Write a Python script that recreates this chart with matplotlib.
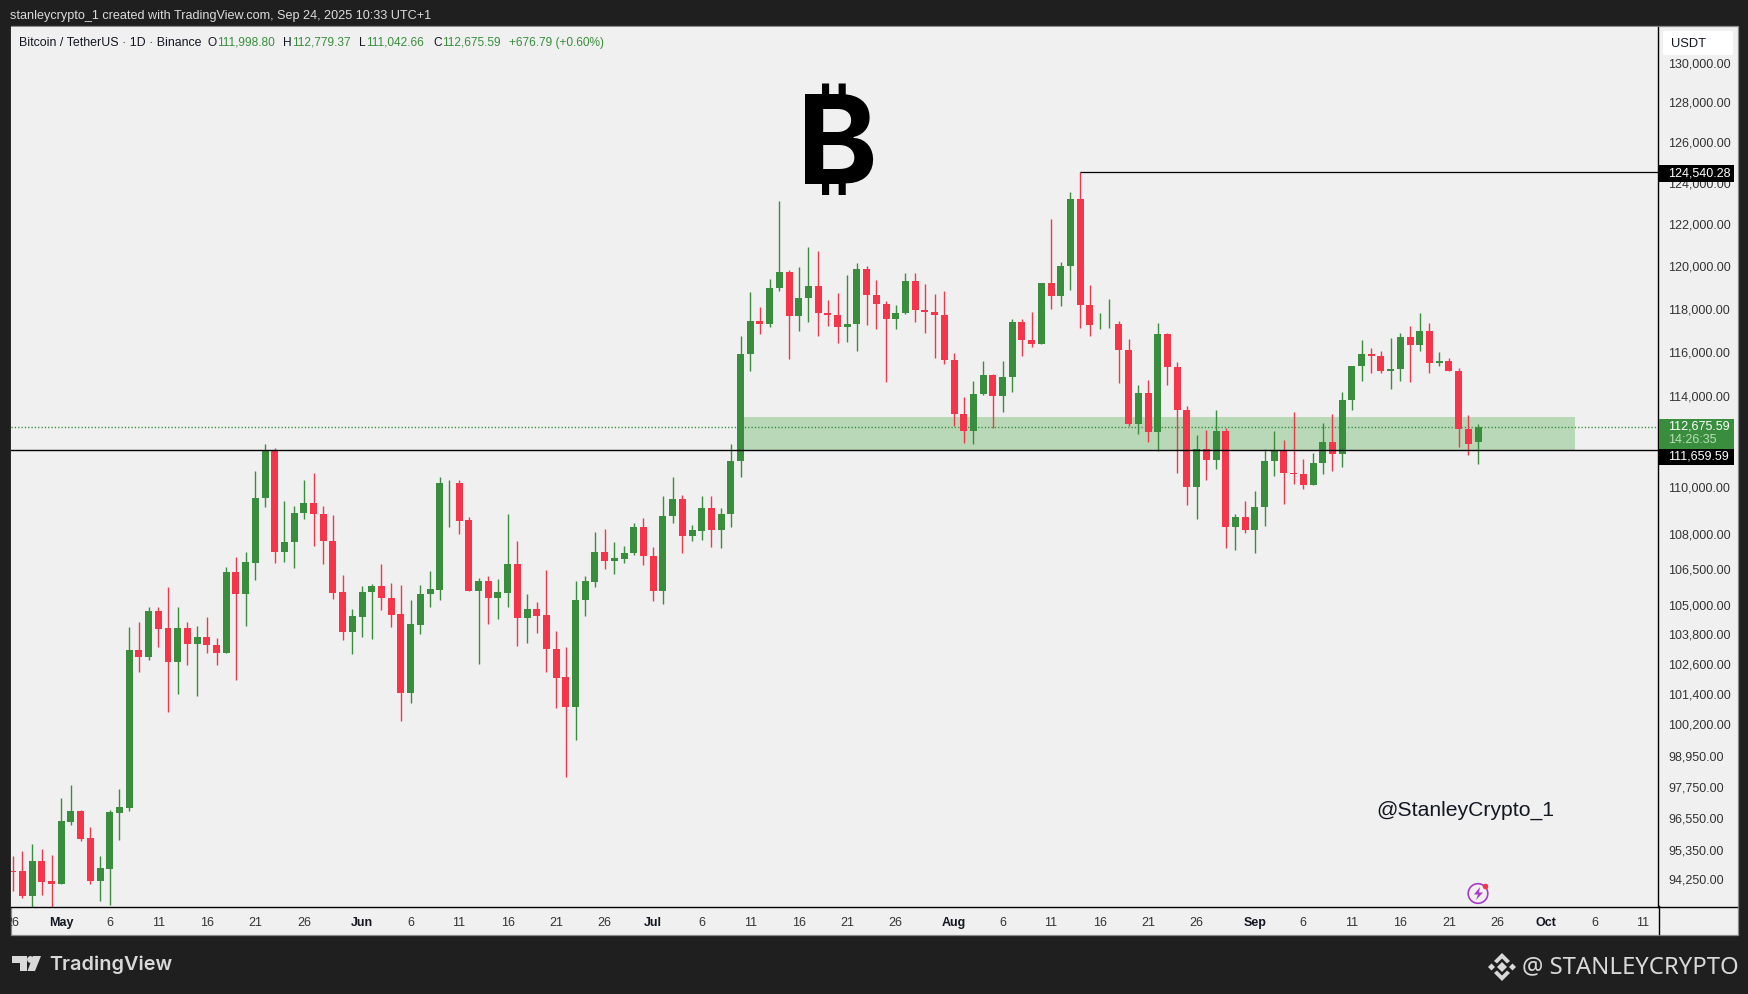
import matplotlib
matplotlib.use('Agg')
import numpy as np
import matplotlib.pyplot as plt
from matplotlib.patches import Rectangle, Polygon, Circle, FancyBboxPatch
from matplotlib.lines import Line2D
from matplotlib.transforms import Affine2D, Bbox, ScaledTranslation

W, H = 1748, 995

# BTCUSDT daily candles, first one is Apr 26 (day -5), May 1 = day 0
first_day = -5
opens = [94570, 94571, 93653, 94943, 94200, 94100, 96425, 96830, 95806, 94210,
         94656, 96766, 96955, 103203, 102893, 104764, 104064, 102693, 104064, 103420,
         103695, 103408, 103054, 106387, 105478, 106775, 109539, 111615, 107235, 107660,
         108897, 109354, 108884, 107732, 105549, 103912, 104530, 105561, 105802, 105340,
         104641, 101444, 104199, 105478, 105645, 110190, 110218, 108585, 105605, 106010,
         105310, 105520, 106721, 104489, 104846, 104600, 103243, 102075, 100888, 105227,
         105981, 107264, 106859, 106943, 107193, 108286, 107097, 105605, 108769, 109525,
         107916, 108130, 109140, 108173, 108853, 111150, 115928, 117481, 117310, 118983,
         119769, 117680, 118510, 119098, 117850, 117758, 117171, 117310, 119910, 118686,
         118266, 117541, 117818, 119345, 117989, 117896, 117758, 115688, 113256, 112470,
         114118, 115011, 114027, 114887, 117435, 116603, 116386, 119251, 118606, 120020,
         123257, 118220, 117310, 117310, 117342, 116141, 112785, 114195, 112426, 116880,
         115371, 113434, 110013, 111702, 111192, 112502, 108300, 108756, 108173, 109153,
         111150, 111658, 110657, 110613, 110100, 111062, 112013, 111454, 113847, 115385,
         115960, 115869, 115159, 115249, 116741, 116340, 117018, 115521, 115643, 115190,
         112591, 111998.80]
highs = [95130, 95315, 95578, 95389, 95166, 97360, 97827, 96868, 96223, 95129,
         96868, 97671, 104105, 104310, 104928, 104928, 105760, 104928, 104310, 104146,
         104518, 103654, 106596, 107055, 107264, 110744, 111924, 111746, 109439, 109226,
         110352, 110657, 109226, 108841, 106261, 104846, 105802, 105885, 106721, 105927,
         105844, 105256, 105844, 106429, 110480, 110352, 110352, 108756, 106136, 106220,
         106094, 108884, 107732, 105507, 105174, 106470, 103941, 103326, 106010, 106220,
         108074, 108202, 107690, 107519, 108457, 108713, 107476, 109656, 110480, 109700,
         108372, 109656, 109656, 109140, 111924, 116788, 118821, 118128, 119440, 123160,
         119863, 120005, 120946, 120758, 118451, 118780, 119628, 120193, 120052, 119393,
         118405, 118220, 119722, 119722, 119204, 118731, 118877, 116005, 114014, 114738,
         115643, 115056, 115643, 117573, 117573, 117896, 119251, 122295, 120240, 123600,
         124540, 119157, 117850, 118498, 117481, 116650, 114557, 114783, 117388, 116926,
         115598, 113612, 112310, 112546, 113434, 112622, 108884, 109439, 109873, 111702,
         112502, 112102, 113345, 111266, 111527, 112857, 113256, 114233, 115417, 116603,
         116233, 116096, 116695, 116926, 117249, 117850, 117388, 116050, 115779, 115326,
         113212, 112779.37]
lows = [93840, 93578, 93000, 93686, 92900, 94100, 96311, 95704, 94100, 93470,
        93320, 95730, 96840, 102290, 102773, 103295, 100690, 101404, 102572, 101324,
        103054, 102572, 103054, 101967, 104158, 106063, 109153, 106775, 106817, 106566,
        108640, 107489, 106733, 105268, 103585, 103014, 103707, 103625, 104817, 104117,
        100334, 101045, 103830, 104940, 105256, 108300, 108001, 105605, 102612, 104245,
        104448, 104940, 103338, 103461, 103871, 102290, 100837, 98144, 99585, 104571,
        105774, 106525, 106316, 106775, 107110, 106692, 105186, 105063, 108470, 107193,
        107702, 107745, 107446, 107404, 108300, 110452, 115159, 116848, 117171, 118835,
        115702, 116987, 117402, 116755, 117217, 116432, 116478, 116064, 117264, 117079,
        114661, 117079, 117772, 117402, 116894, 115747, 115476, 112693, 111938, 111893,
        114073, 112604, 113314, 114208, 115837, 116247, 116386, 118003, 118141, 118881,
        117125, 116755, 117079, 117125, 114616, 112693, 112337, 111982, 111600, 114525,
        110630, 109239, 108640, 110318, 110800, 107404, 107319, 108044, 107193, 108343,
        110496, 109282, 110144, 109926, 110100, 110583, 110714, 110888, 113403, 114706,
        115069, 115069, 114344, 114706, 114661, 116064, 115069, 115385, 115159, 111760,
        111410, 111042.66]
closes = [94545, 93653, 94943, 94173, 94100, 96451, 96830, 95780, 94210, 94682,
          96792, 96982, 103203, 102893, 104764, 104035, 102693, 104064, 103420, 103695,
          103380, 103054, 106387, 105478, 106805, 109569, 111615, 107235, 107690, 108927,
          109354, 108853, 107702, 105520, 103912, 104559, 105590, 105802, 105310, 104612,
          101444, 104228, 105507, 105674, 110218, 110218, 108555, 105605, 106010, 105310,
          105549, 106721, 104489, 104846, 104571, 103215, 102047, 100888, 105256, 106010,
          107264, 106859, 106972, 107222, 108286, 107068, 105605, 108798, 109525, 107916,
          108159, 109140, 108173, 108884, 111180, 115960, 117481, 117310, 119005, 119769,
          117680, 118543, 119098, 117818, 117726, 117171, 117342, 119910, 118653, 118234,
          117541, 117850, 119345, 117957, 117864, 117726, 115657, 113225, 112470, 114150,
          115011, 114027, 114919, 117435, 116570, 116386, 119251, 118606, 120052, 123257,
          118188, 117264, 117342, 117342, 116109, 112785, 114195, 112426, 116880, 115340,
          113403, 110013, 111702, 111192, 112502, 108300, 108756, 108173, 109183, 111180,
          111658, 110630, 110583, 110100, 111091, 112013, 111454, 113878, 115417, 115960,
          115838, 115159, 115280, 116741, 116340, 117018, 115521, 115643, 115159, 112559,
          111893, 112675.59]

price_ticks = [130000, 128000, 126000, 124000, 122000, 120000, 118000, 116000, 114000,
               110000, 108000, 106500, 105000, 103800, 102600, 101400, 100200, 98950,
               97750, 96550, 95350, 94250]
day_ticks = [-5, 0, 5, 10, 15, 20, 25, 31, 36, 41, 46, 51, 56, 61, 66, 71, 76, 81, 86,
             92, 97, 102, 107, 112, 117, 123, 128, 133, 138, 143, 148, 153, 158, 163]
day_labels = ['26', 'May', '6', '11', '16', '21', '26', 'Jun', '6', '11', '16', '21', '26',
              'Jul', '6', '11', '16', '21', '26', 'Aug', '6', '11', '16', '21', '26',
              'Sep', '6', '11', '16', '21', '26', 'Oct', '6', '11']
months = ['May', 'Jun', 'Jul', 'Aug', 'Sep', 'Oct']

ath_price = 124540.28
ath_day = 105
support = 111659.59
last_price = 112675.59
zone_top = 113123
zone_days = (70, 156)

GREEN = '#388e3c'
RED = '#f5364a'
DARK = '#1f1f1f'
PANEL = '#f0f0f0'

plt.rcParams['font.family'] = ['Liberation Sans', 'DejaVu Sans']

fig = plt.figure(figsize=(W / 100, H / 100), dpi=100, facecolor=DARK)
# overlay artists are placed in screen pixels, y going down
px = Affine2D().scale(1, -1).translate(0, H)


def box(x0, y0, x1, y1, color, z=5, **kw):
    fig.add_artist(Rectangle((x0, y0), x1 - x0, y1 - y0, transform=px, facecolor=color,
                             edgecolor='none', zorder=z, **kw))


def label(x, y, s, size=9, color='#131722', ha='left', z=6, **kw):
    fig.text(x, y, s, transform=px, fontsize=size, color=color, ha=ha, va='center', zorder=z, **kw)


# frame of chart and scales
fig.add_artist(Rectangle((10.5, 27), 1727, 909, transform=px, facecolor=PANEL,
                         edgecolor='#8a8a8a', linewidth=0.9, zorder=-1))

ax = fig.add_axes([11 / W, 1 - 907.5 / H, 1647.5 / W, 880 / H], zorder=1)
ax.set_facecolor(PANEL)
ax.set_yscale('log')
ax.set_xlim(-5.18, 164.6)
ax.set_ylim(93270, 131908)

days = np.arange(len(opens)) + first_day
o = np.array(opens)
c = np.array(closes)
up = c >= o
colors = np.where(up, GREEN, RED)

ax.add_patch(Rectangle((zone_days[0], support), zone_days[1] - zone_days[0], zone_top - support,
                       facecolor='#b9d8b8', edgecolor='none', zorder=1))
ax.axhline(last_price, color='#2e8b34', lw=1, ls=(0, (0.9, 1.5)), zorder=1.5)
ax.vlines(days, lows, highs, colors=colors, lw=1.0, zorder=2)
ax.bar(days, np.abs(c - o), bottom=np.minimum(o, c), width=0.72, color=colors, zorder=3)
ax.axhline(support, color='black', lw=1.0, zorder=4)
ax.hlines(ath_price, ath_day, 164.6, color='black', lw=0.9, zorder=4)

ax.yaxis.tick_right()
ax.set_yticks(price_ticks)
ax.set_yticklabels([f'{v:,.2f}' for v in price_ticks])
ax.minorticks_off()
ax.tick_params(axis='y', which='both', length=0, pad=6.8, labelsize=9, labelcolor='#333333')
# price labels sit a little above their level
nudge = ScaledTranslation(0, 1.5 / 100, fig.dpi_scale_trans)
for tick in ax.yaxis.get_major_ticks():
    tick.label2.set_transform(tick.label2.get_transform() + nudge)
ax.set_xticks(day_ticks)
ax.set_xticklabels(day_labels)
ax.tick_params(axis='x', length=0, pad=7, labelsize=9, labelcolor='#333333')
clip = Bbox([[11, 0], [W, H]])
for lab in ax.get_xticklabels():
    lab.set_clip_box(clip)
    lab.set_clip_on(True)
    if lab.get_text() in months:
        lab.set_fontweight('bold')
        lab.set_color('#131722')
for name in ['left', 'top']:
    ax.spines[name].set_visible(False)
for name in ['right', 'bottom']:
    ax.spines[name].set_linewidth(1.0)

# axis lines run on through the scale panels
fig.add_artist(Line2D([1658.5, 1658.5], [907, 935], transform=px, color='black', lw=1.0, zorder=4))
fig.add_artist(Line2D([1658.5, 1737], [907.5, 907.5], transform=px, color='black', lw=1.0, zorder=4))

# header
label(10, 16, 'stanleycrypto_1 created with TradingView.com, Sep 24, 2025 10:33 UTC+1', size=9.1, color='#dcdcdc')
label(19, 43, 'Bitcoin / TetherUS · 1D · Binance', size=8.9)
legend_items = [(207, 'O', 10, '111,998.80'), (283, 'H', 9.5, '112,779.37'),
                (358.5, 'L', 7.5, '111,042.66'), (433, 'C', 9, '112,675.59')]
for x, letter, gap, value in legend_items:
    label(x, 43, letter, size=8.6)
    label(x + gap, 43, value, size=8.6, color=GREEN)
label(509, 43, '+676.79 (+0.60%)', size=8.6, color=GREEN)

# coin sign and handle
label(837, 152, '₿', size=88, color='black', ha='center',
      family=['Inter', 'Noto Sans', 'Roboto', 'Open Sans', 'Lato', 'DejaVu Sans'], fontweight='bold')
label(1376, 810, '@StanleyCrypto_1', size=15.2, color='#131722')

# price scale tags
fig.add_artist(FancyBboxPatch((1665, 34), 66, 20, boxstyle='round,pad=2', transform=px,
                              facecolor='white', edgecolor='none', zorder=5))
box(1660, 56, 1736, 60, PANEL)
label(1671, 44, 'USDT', size=9.3)
box(1659, 166, 1734, 182.7, 'black')
label(1668, 173.5, f'{ath_price:,.2f}', size=9, color='white')
box(1659, 420, 1734, 450, GREEN)
label(1668, 427, f'{last_price:,.2f}', size=9, color='white')
label(1668, 440.5, '14:26:35', size=9, color='#bcdcbc')
box(1659, 450, 1734, 466, 'black')
label(1668, 457, f'{support:,.2f}', size=9, color='white')

# replay/alert icon
fig.add_artist(Circle((1478, 894.5), 9.8, transform=px, facecolor='none', edgecolor='#a83ac8', lw=1.2, zorder=6))
fig.add_artist(Polygon([(1480, 888), (1474, 895.5), (1478, 895.5), (1476, 901), (1483, 893.5), (1479, 893.5)],
                       transform=px, facecolor='#a83ac8', edgecolor='none', zorder=6))
fig.add_artist(Circle((1485.5, 887.5), 2.8, transform=px, facecolor=RED, edgecolor='none', zorder=7))

# footer, left logo
LOGO = '#d9d9d9'
fig.add_artist(Polygon([(12, 957), (27, 957), (27, 972), (19.5, 972), (19.5, 964), (12, 964)],
                       transform=px, facecolor=LOGO, edgecolor='none', zorder=6))
fig.add_artist(Circle((30.5, 960.5), 3.4, transform=px, facecolor=LOGO, edgecolor='none', zorder=6))
fig.add_artist(Polygon([(33, 957), (41, 957), (35, 972), (27.5, 972)],
                       transform=px, facecolor=LOGO, edgecolor='none', zorder=6))
label(49, 965, 'TradingView', size=14.3, color=LOGO, family=['Inter', 'DejaVu Sans'], fontweight='semibold')

# footer, right handle
cx, cy = 1502, 968
diamonds = [[(cx - 5, cy), (cx, cy - 5), (cx + 5, cy), (cx, cy + 5)],
            [(cx - 14, cy), (cx - 10.5, cy - 3.5), (cx - 7, cy), (cx - 10.5, cy + 3.5)],
            [(cx + 7, cy), (cx + 10.5, cy - 3.5), (cx + 14, cy), (cx + 10.5, cy + 3.5)],
            [(cx - 8, cy - 6), (cx, cy - 14), (cx + 8, cy - 6), (cx + 5, cy - 3.5), (cx, cy - 8.5), (cx - 5, cy - 3.5)],
            [(cx - 8, cy + 6), (cx, cy + 14), (cx + 8, cy + 6), (cx + 5, cy + 3.5), (cx, cy + 8.5), (cx - 5, cy + 3.5)]]
for pts in diamonds:
    fig.add_artist(Polygon(pts, transform=px, facecolor=LOGO, edgecolor='none', zorder=6))
label(1522, 967, '@ STANLEYCRYPTO', size=17.2, color=LOGO, family=['Noto Sans', 'DejaVu Sans'])

fig.savefig('out.png', dpi=100, facecolor=DARK)
